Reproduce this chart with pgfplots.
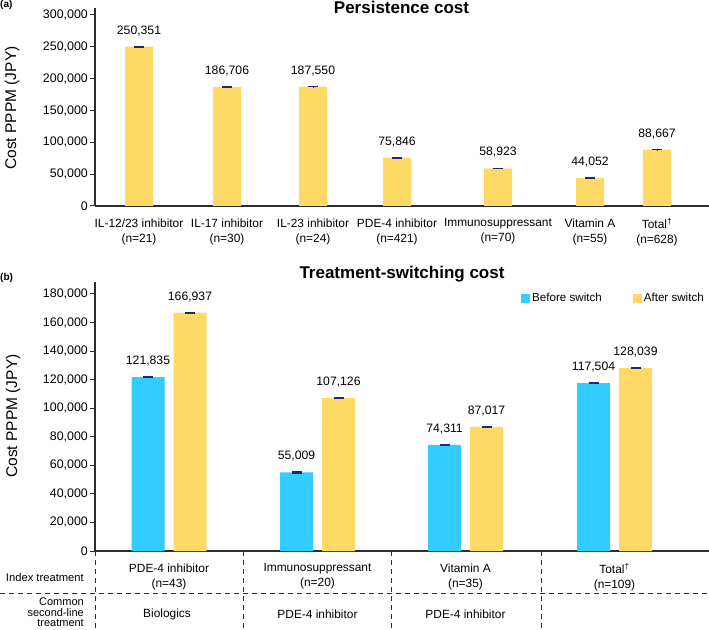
\documentclass[border=0pt]{standalone}
\usepackage{pgfplots}
\usepackage{pgfplotstable}
\pgfplotsset{compat=1.18}
\usepackage{fontspec}
\setmainfont{Liberation Sans}

\definecolor{barY}{RGB}{255,217,102}
\definecolor{barB}{RGB}{51,204,255}
\definecolor{errc}{RGB}{30,40,110}
\definecolor{axc}{RGB}{45,45,45}

% persistence cost (x = bar position)
\pgfplotstableread{
x y e lab
139 250351 400 250,351
227 186706 400 186,706
313 187550 400 187,550
397 75846 400 75,846
498 58923 400 58,923
590 44052 400 44,052
657 88667 400 88,667
}\persist

% switching cost, before / after
\pgfplotstableread{
x y e lab
169 121835 300 121,835
317.5 55009 300 55,009
465.5 74311 300 74,311
614.5 117504 300 117,504
}\before
\pgfplotstableread{
x y e lab
169 166937 300 166,937
317.5 107126 300 107,126
465.5 87017 300 87,017
614.5 128039 300 128,039
}\after

\pgfplotsset{
  costaxis/.style={
    scale only axis, width=614pt, xmin=95, xmax=709, ymin=0,
    anchor=south west, clip=false,
    axis x line*=bottom, axis y line*=left,
    axis line style={axc, line width=1.2pt},
    major tick length=5pt, tick align=outside,
    ytick style={axc, line width=1pt},
    xtick style={draw=none},
    scaled y ticks=false,
    yticklabel style={inner xsep=2pt, font=\fontsize{12.4}{14}\selectfont,
      /pgf/number format/.cd, fixed, 1000 sep={,}, assume math mode=true},
    xticklabel style={align=center, yshift=-4pt, font=\fontsize{11.9}{15}\selectfont},
    nodes near coords, point meta=explicit symbolic,
    every node near coord/.append style={anchor=base, inner sep=0pt,
      yshift=12.5pt, font=\fontsize{12.2}{14}\selectfont},
  },
  errs/.style={
    error bars/y dir=both, error bars/y explicit,
    error bars/error bar style={errc, line width=1pt},
    error bars/error mark options={errc, line width=1.3pt, mark size=5pt, rotate=90},
  },
  sqleg/.style={legend image code/.code={\fill[##1, draw=none] (0pt,-4.5pt) rectangle (9pt,4.5pt);}},
}

\begin{document}
\begin{tikzpicture}
\useasboundingbox (0,0) rectangle (709pt,629pt);

% (a) persistence cost
\begin{axis}[costaxis, at={(95pt,423pt)}, height=198pt, ymax=311000,
    ytick={0,50000,...,300000},
    ybar, bar width=28pt,
    xtick={139,227,313,397,498,590,657},
    xticklabels={{IL-12/23 inhibitor\\(n=21)}, {IL-17 inhibitor\\(n=30)},
      {IL-23 inhibitor\\(n=24)}, {PDE-4 inhibitor\\(n=421)},
      {Immunosuppressant\\(n=70)}, {Vitamin A\\(n=55)},
      {Total\textsuperscript{†}\\(n=628)}},
  ]
  \addplot[fill=barY, draw=none, errs] table[x=x, y=y, y error=e, meta=lab] {\persist};
\end{axis}

% (b) treatment-switching cost
\begin{axis}[costaxis, at={(95pt,78pt)}, height=269pt, ymax=188400,
    ytick={0,20000,...,180000},
    ybar=9pt, bar width=33pt,
    xtick={169,317.5,465.5,614.5},
    xticklabels={{PDE-4 inhibitor\\(n=43)}, {Immunosuppressant\\(n=20)},
      {Vitamin A\\(n=35)}, {Total\textsuperscript{†}\\(n=109)}},
    legend columns=2,
    legend style={at={(0.6938,0.9405)}, anchor=west, draw=none, fill=none,
      inner sep=0pt, font=\fontsize{11.6}{14}\selectfont,
      nodes={inner xsep=2pt, inner ysep=1pt},
      /tikz/every even column/.append style={column sep=29pt}},
  ]
  \addplot[fill=barB, draw=none, sqleg, errs] table[x=x, y=y, y error=e, meta=lab] {\before};
  \addplot[fill=barY, draw=none, sqleg, errs] table[x=x, y=y, y error=e, meta=lab] {\after};
  \legend{Before switch, After switch}
\end{axis}

% titles and axis labels
\node[anchor=base west, inner sep=0pt, font=\bfseries\fontsize{10}{12}\selectfont] at (0pt,621pt) {(a)};
\node[anchor=base, inner sep=0pt, font=\bfseries\fontsize{17}{20}\selectfont] at (401.5pt,615pt) {Persistence cost};
\node[rotate=90, inner sep=0pt, font=\fontsize{15.5}{18}\selectfont] at (12pt,521pt) {Cost PPPM (JPY)};

\node[anchor=base west, inner sep=0pt, font=\bfseries\fontsize{10}{12}\selectfont] at (0pt,348pt) {(b)};
\node[anchor=base, inner sep=0pt, font=\bfseries\fontsize{17}{20}\selectfont] at (402pt,350pt) {Treatment-switching cost};
\node[rotate=90, inner sep=0pt, font=\fontsize{15.5}{18}\selectfont] at (13pt,213pt) {Cost PPPM (JPY)};

% table under panel (b)
\draw[axc, line width=0.9pt, dash pattern=on 5pt off 4pt] (0pt,36pt) -- (709pt,36pt);
\foreach \xx in {95,243,391,541}
  \draw[axc, line width=0.9pt, dash pattern=on 5pt off 4pt] (\xx pt,78pt) -- (\xx pt,0pt);
\node[anchor=east, inner sep=0pt, font=\fontsize{11.2}{13}\selectfont] at (84pt,52pt) {Index treatment};
\node[anchor=east, align=right, inner sep=0pt, font=\fontsize{11}{10.3}\selectfont] at (84pt,16.5pt) {Common\\second-line\\treatment};
\node[font=\fontsize{11.9}{14}\selectfont] at (167pt,15pt) {Biologics};
\node[font=\fontsize{11.9}{14}\selectfont] at (317.5pt,15pt) {PDE-4 inhibitor};
\node[font=\fontsize{11.9}{14}\selectfont] at (465.5pt,15pt) {PDE-4 inhibitor};
\end{tikzpicture}
\end{document}
